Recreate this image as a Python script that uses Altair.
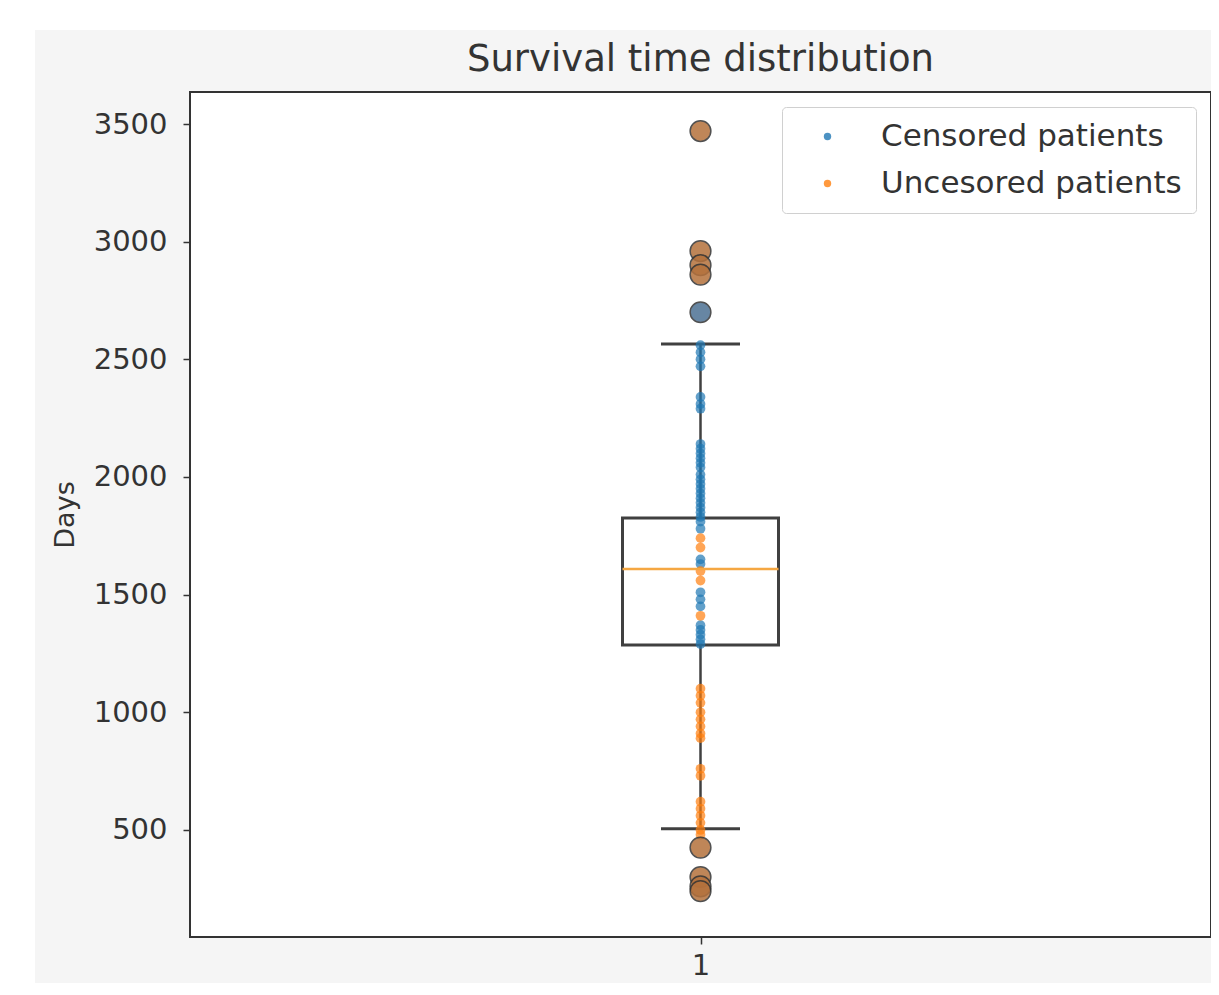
import altair as alt
import pandas as pd

# ---- data ----
groups = ["Censored patients", "Uncesored patients"]
group_colors = ["#1f77b4", "#ff7f0e"]
outlier_fills = ["#4d7193", "#b4713c"]
x_categories = [1]

censored_days = [2560, 2530, 2500, 2470, 2340, 2310, 2290, 2140, 2120, 2100, 2080,
                 2060, 2040, 2010, 1990, 1970, 1950, 1930, 1910, 1890, 1870, 1850,
                 1830, 1810, 1780, 1650, 1630, 1510, 1480, 1450, 1370, 1350, 1330,
                 1310, 1290]
uncensored_days = [1740, 1700, 1600, 1560, 1410, 1100, 1070, 1040, 1000, 970, 940,
                   910, 890, 760, 730, 620, 590, 560, 530, 500, 480]
censored_outliers = [2700]
uncensored_outliers = [3470, 2960, 2900, 2860, 425, 300, 260, 240]

box_q1 = 1286
box_median = 1609
box_q3 = 1826
whisker_low = 505
whisker_high = 2565

# ---- layout / style ----
W, H = 1021, 845
PAD = {"left": 182, "top": 84, "right": 0, "bottom": 46}
BOX_HALF = 78 / W          # data units (x domain spans 1 unit)
CAP_HALF = 39.5 / W
LINE = "#404040"
FONT = "DejaVu Sans"
STRIP_TOP = -(PAD["top"] + 6)

points = pd.DataFrame({
    "x": [x_categories[0]] * (len(censored_days) + len(uncensored_days)),
    "days": censored_days + uncensored_days,
    "group": [groups[0]] * len(censored_days) + [groups[1]] * len(uncensored_days),
})
outliers = pd.DataFrame({
    "x": [x_categories[0]] * (len(censored_outliers) + len(uncensored_outliers)),
    "days": censored_outliers + uncensored_outliers,
    "group": [groups[0]] * len(censored_outliers) + [groups[1]] * len(uncensored_outliers),
})
c = x_categories[0]
box = pd.DataFrame({
    "x": [c], "x_lo": [c - BOX_HALF], "x_hi": [c + BOX_HALF],
    "cap_lo": [c - CAP_HALF], "cap_hi": [c + CAP_HALF],
    "q1": [box_q1], "med": [box_median], "q3": [box_q3],
    "wlo": [whisker_low], "whi": [whisker_high],
})

x_scale = alt.Scale(domain=[0.5, 1.5], nice=False, zero=False)
y_scale = alt.Scale(domain=[45, 3636], nice=False, zero=False)
x_axis = alt.Axis(values=x_categories, format="d", title=None, labelPadding=7)
y_axis = alt.Axis(values=[500, 1000, 1500, 2000, 2500, 3000, 3500], title="Days",
                  format="d", titlePadding=14, labelPadding=16)

def X(field):
    return alt.X(f"{field}:Q", scale=x_scale, axis=x_axis)

def Y(field):
    return alt.Y(f"{field}:Q", scale=y_scale, axis=y_axis)

one = pd.DataFrame({"k": [0]})
strip_left = alt.Chart(one).mark_rect(color="white").encode(
    x=alt.value(-PAD["left"] - 6), x2=alt.value(-155),
    y=alt.value(STRIP_TOP), y2=alt.value(H + PAD["bottom"] + 6))
strip_top = alt.Chart(one).mark_rect(color="white").encode(
    x=alt.value(-PAD["left"] - 6), x2=alt.value(W + PAD["right"] + 6),
    y=alt.value(STRIP_TOP), y2=alt.value(-62))

base = alt.Chart(box)
whisk_up = base.mark_rule(color=LINE, strokeWidth=2.5).encode(x=X("x"), y=Y("q3"), y2="whi:Q")
whisk_dn = base.mark_rule(color=LINE, strokeWidth=2.5).encode(x=X("x"), y=Y("wlo"), y2="q1:Q")
cap_up = base.mark_rule(color=LINE, strokeWidth=3).encode(x=X("cap_lo"), x2="cap_hi:Q", y=Y("whi"))
cap_dn = base.mark_rule(color=LINE, strokeWidth=3).encode(x=X("cap_lo"), x2="cap_hi:Q", y=Y("wlo"))
box_rect = base.mark_rect(fillOpacity=0, stroke=LINE, strokeWidth=3).encode(
    x=X("x_lo"), x2="x_hi:Q", y=Y("q1"), y2="q3:Q")
median = base.mark_rule(color="#f5a742", strokeWidth=2.5).encode(
    x=X("x_lo"), x2="x_hi:Q", y=Y("med"))

scatter = alt.Chart(points).mark_circle(size=95, opacity=0.7).encode(
    x=X("x"), y=Y("days"),
    color=alt.Color("group:N", scale=alt.Scale(domain=groups, range=group_colors),
                    legend=alt.Legend(title=None)),
)
fliers = alt.Chart(outliers).mark_point(filled=True, size=430, opacity=0.85,
                                        stroke="#333333", strokeWidth=1.5).encode(
    x=X("x"), y=Y("days"),
    fill=alt.Fill("group:N", scale=alt.Scale(domain=groups, range=outlier_fills), legend=None),
)

# the title sits above the bounds of all marks (the white strips start at STRIP_TOP),
# so a negative offset brings it back to just above the plot frame
TITLE_GAP = 13
chart = alt.layer(
    strip_left, strip_top, whisk_up, whisk_dn, cap_up, cap_dn, box_rect, scatter, median, fliers
).properties(
    width=W, height=H,
    padding=PAD,
    autosize=alt.AutoSizeParams(type="none"),
    background="#f5f5f5",
    title=alt.TitleParams("Survival time distribution", fontSize=37, font=FONT,
                          fontWeight="normal", color="#333333",
                          offset=STRIP_TOP + TITLE_GAP, anchor="middle"),
).configure_view(
    stroke="#333333", strokeWidth=2, fill="white"
).configure_axis(
    labelFont=FONT, labelFontSize=29, labelColor="#333333",
    tickColor="#333333", tickWidth=1.5, tickSize=7,
    grid=False, domain=False,
    titleFont=FONT, titleFontSize=27, titleFontWeight="normal", titleColor="#333333",
).configure_legend(
    orient="top-right", offset=15, padding=14,
    fillColor="white", strokeColor="#d0d0d0", cornerRadius=4,
    labelFont=FONT, labelFontSize=31, labelColor="#333333", labelLimit=600,
    symbolSize=55, symbolType="circle", symbolOpacity=0.8, symbolStrokeWidth=0,
    symbolOffset=16, labelOffset=38, rowPadding=15,
)

chart.save("out.html", embed_options={"renderer": "svg", "actions": False})
